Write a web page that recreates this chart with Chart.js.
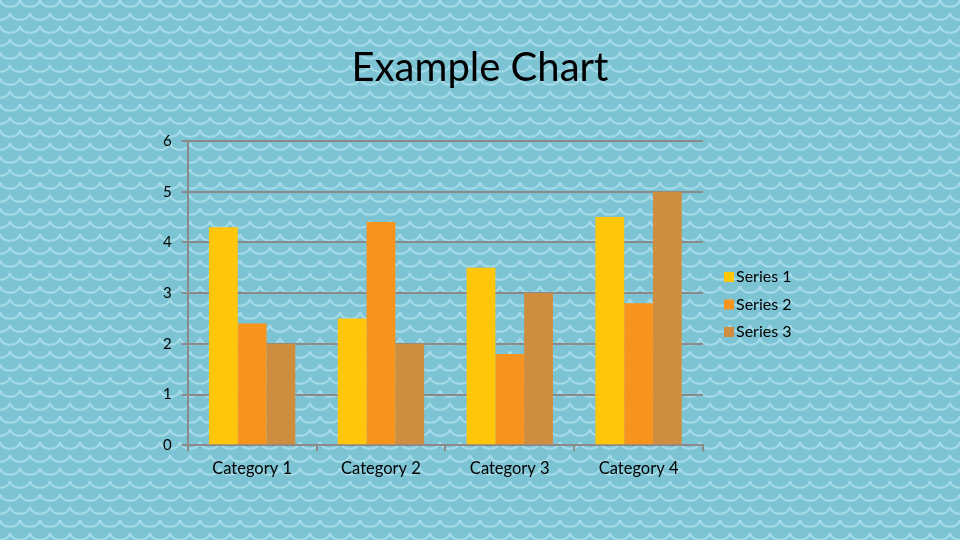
<!DOCTYPE html>
<html><head><meta charset="utf-8">
<script src="https://cdn.jsdelivr.net/npm/chart.js@4/dist/chart.umd.min.js"></script>
<style>html,body{margin:0;padding:0;background:#7cc3d3;}#wrap{width:960px;height:540px;}</style>
</head><body><div id="wrap"><canvas id="c" width="960" height="540"></canvas></div>
<script>
const categories = ["Category 1", "Category 2", "Category 3", "Category 4"];
const series1 = [4.3, 2.5, 3.5, 4.5];
const series2 = [2.4, 4.4, 1.8, 2.8];
const series3 = [2, 2, 3, 5];
const seriesNames = ["Series 1", "Series 2", "Series 3"];
const seriesColors = ['rgb(255,198,10)', 'rgb(247,148,30)', 'rgb(207,141,64)'];
const yTicks = [0, 1, 2, 3, 4, 5, 6];
const chartTitle = "Example Chart";

const font = "Lato, 'Open Sans', sans-serif";

const bgPlugin = {
  id: 'waves',
  beforeDraw(chart) {
    const ctx = chart.ctx;
    const W = chart.width, H = chart.height;
    ctx.save();
    ctx.fillStyle = '#7cc3d3';
    ctx.fillRect(0, 0, W, H);
    ctx.strokeStyle = 'rgba(170,222,234,0.9)';
    ctx.lineWidth = 2.2;
    const px = 20, py = 13;
    for (let r = -1; r * py < H + py; r++) {
      const off = (r % 2) * (px / 2);
      const y = r * py;
      ctx.beginPath();
      for (let x = -px + off; x < W + px; x += px) {
        ctx.moveTo(x, y);
        ctx.bezierCurveTo(x + 2, y + 9, x + px - 2, y + 9, x + px, y);
      }
      ctx.stroke();
    }
    ctx.restore();
  }
};

const textPlugin = {
  id: 'titleLegend',
  afterDraw(chart) {
    const ctx = chart.ctx;
    ctx.save();
    ctx.fillStyle = '#000';
    ctx.font = "40px " + font;
    ctx.textAlign = 'center';
    ctx.textBaseline = 'middle';
    ctx.fillText(chartTitle, 480, 68);

    ctx.font = "16px " + font;
    ctx.textAlign = 'left';
    const x0 = 724, y0 = 277, gap = 27.5;
    chart.data.datasets.forEach((ds, i) => {
      const y = y0 + i * gap;
      ctx.fillStyle = ds.backgroundColor;
      ctx.fillRect(x0, y - 5, 10, 10);
      ctx.fillStyle = '#000';
      ctx.fillText(ds.label, x0 + 12, y);
    });
    ctx.restore();
  }
};

new Chart(document.getElementById('c'), {
  type: 'bar',
  data: {
    labels: categories,
    datasets: [
      { label: seriesNames[0], data: series1, backgroundColor: seriesColors[0] },
      { label: seriesNames[1], data: series2, backgroundColor: seriesColors[1] },
      { label: seriesNames[2], data: series3, backgroundColor: seriesColors[2] }
    ]
  },
  options: {
    responsive: false,
    animation: false,
    devicePixelRatio: 1,
    layout: { padding: { left: 153, right: 257, top: 141, bottom: 53 } },
    datasets: { bar: { barPercentage: 1, categoryPercentage: 0.67 } },
    plugins: {
      title: { display: false },
      legend: { display: false },
      tooltip: { enabled: false }
    },
    scales: {
      x: {
        grid: { display: true, drawOnChartArea: false, drawTicks: true, tickLength: 6, offset: true, color: '#8a8a8a', lineWidth: 2 },
        border: { display: true, color: '#8a8a8a', width: 2 },
        ticks: { color: '#000', font: { family: font, size: 16.5 }, padding: 8 }
      },
      y: {
        min: 0, max: 6,
        afterBuildTicks(axis) { axis.ticks = yTicks.map(v => ({ value: v })); },
        grid: { color: '#8a8a8a', lineWidth: 2, tickLength: 6 },
        border: { display: true, color: '#8a8a8a', width: 2 },
        ticks: { color: '#000', font: { family: font, size: 15 }, padding: 10 }
      }
    }
  },
  plugins: [bgPlugin, textPlugin]
});
</script></body></html>
